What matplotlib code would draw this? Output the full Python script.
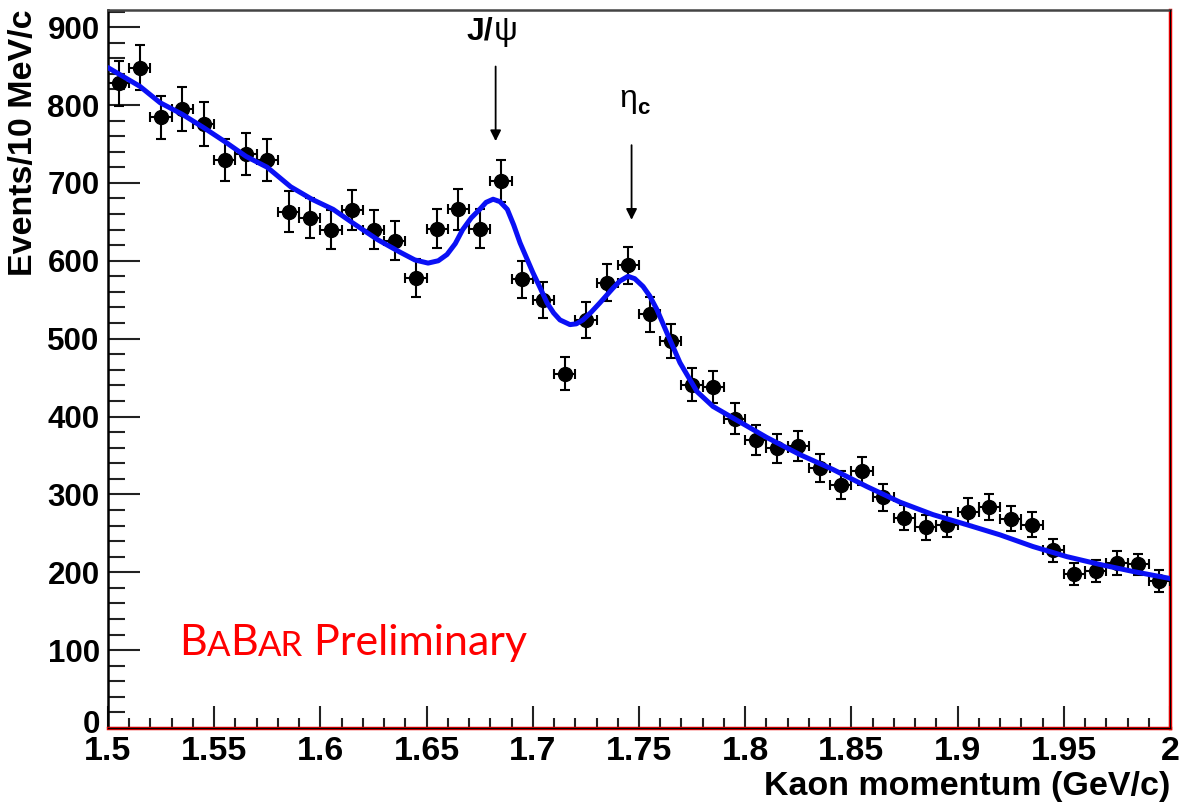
import numpy as np
import matplotlib
matplotlib.use('Agg')
import matplotlib.pyplot as plt
import matplotlib.transforms as mtransforms

#===============================================================================
# data (bin centres, 10 MeV/c bins)

kaon_p = [1.505, 1.515, 1.525, 1.535, 1.545, 1.555, 1.565, 1.575, 1.585, 1.595,
          1.605, 1.615, 1.625, 1.635, 1.645, 1.655, 1.665, 1.675, 1.685, 1.695,
          1.705, 1.715, 1.725, 1.735, 1.745, 1.755, 1.765, 1.775, 1.785, 1.795,
          1.805, 1.815, 1.825, 1.835, 1.845, 1.855, 1.865, 1.875, 1.885, 1.895,
          1.905, 1.915, 1.925, 1.935, 1.945, 1.955, 1.965, 1.975, 1.985, 1.995]

events = [828, 848, 784, 795, 776, 729, 737, 729, 663, 655,
          640, 665, 640, 626, 578, 641, 666, 641, 702, 576,
          550, 455, 524, 572, 594, 531, 497, 441, 438, 397,
          370, 359, 362, 334, 312, 330, 296, 270, 258, 261,
          278, 284, 269, 261, 228, 198, 202, 212, 210, 189]

events_err = [29, 29, 28, 28, 28, 27, 27, 27, 26, 26,
              25, 26, 25, 25, 24, 25, 26, 25, 27, 24,
              23, 21, 23, 24, 24, 23, 22, 21, 21, 20,
              19, 19, 19, 18, 18, 18, 17, 16, 16, 16,
              17, 17, 16, 16, 15, 14, 14, 15, 14, 14]

bin_half = [0.005] * len(kaon_p)

# fit curve, points
fit_p = [1.500, 1.515, 1.5245, 1.535, 1.545, 1.555, 1.565, 1.575, 1.586, 1.596,
         1.606, 1.615, 1.627, 1.6375, 1.6445, 1.6507, 1.6555, 1.6596, 1.6635, 1.667,
         1.671, 1.675, 1.678, 1.6813, 1.6845, 1.688, 1.691, 1.694, 1.697, 1.700,
         1.7035, 1.7067, 1.7098, 1.7128, 1.7175, 1.7205, 1.7236, 1.7275, 1.7316, 1.7378,
         1.741, 1.7448, 1.748, 1.7519, 1.755, 1.7585, 1.7632, 1.7693, 1.7773, 1.7848,
         1.7943, 1.8102, 1.8258, 1.8413, 1.8573, 1.8729, 1.8884, 1.9044, 1.920, 1.9355,
         1.9515, 1.967, 1.9826, 2.000]
fit_n = [848, 824, 803, 788, 771, 753, 734, 720, 695, 679,
         666, 649, 627, 611, 601, 597, 600, 608, 622, 640,
         655, 666, 675, 679, 676, 666, 646, 623, 604, 585,
         565, 546, 533, 524, 518, 519, 524, 534, 546, 565,
         574, 580, 577, 567, 555, 537, 507, 469, 432, 413,
         398, 373, 351, 332, 310, 290, 274, 261, 248, 233,
         220, 210, 201, 192]

# peak markers
peak_pos = [1.6825, 1.7465]

#===============================================================================

plt.rcParams['font.family'] = ['Liberation Sans', 'DejaVu Sans']

fig = plt.figure(figsize=(11.81, 8.06), dpi=100)
ax = fig.add_axes([108 / 1181, 1 - 728 / 806, (1170 - 108) / 1181, (728 - 10) / 806])

ax.errorbar(kaon_p, events, yerr=events_err, xerr=bin_half, fmt='o', color='black',
            markersize=10, elinewidth=1.5, capsize=3.8, capthick=1.5, zorder=3)
ax.plot(fit_p, fit_n, color='#0a10f5', linewidth=3.6, solid_capstyle='round',
        solid_joinstyle='round', zorder=4)

ax.set_xlim(1.5, 2.0)
ax.set_ylim(0, 922)

ax.set_xticks(np.arange(1.5, 2.001, 0.05))
ax.set_xticks(np.arange(1.5, 2.001, 0.01), minor=True)
ax.set_xticklabels(['1.5', '1.55', '1.6', '1.65', '1.7', '1.75', '1.8', '1.85',
                    '1.9', '1.95', '2'])
ax.set_yticks(np.arange(0, 901, 100))
ax.set_yticks(np.arange(0, 921, 20), minor=True)

ax.tick_params(axis='both', which='both', direction='in', width=1.5, color='#222222')
ax.tick_params(axis='y', which='major', length=23, pad=6)
ax.tick_params(axis='y', which='minor', length=12)
ax.tick_params(axis='x', which='major', length=16, pad=6)
ax.tick_params(axis='x', which='minor', length=7)
for lab in ax.get_xticklabels():
    lab.set_fontsize(24.5)
    lab.set_fontweight('bold')
for lab in ax.get_yticklabels():
    lab.set_fontsize(22.5)
    lab.set_fontweight('bold')

# lift the "0" a little so it sits just above "1.5" as in the original
zero_lab = ax.get_yticklabels()[0]
zero_lab.set_transform(zero_lab.get_transform() +
                       mtransforms.ScaledTranslation(0, 5 / 72, fig.dpi_scale_trans))

ax.spines['left'].set_color('black')
ax.spines['left'].set_linewidth(1.8)
ax.spines['top'].set_color('#444444')
ax.spines['top'].set_linewidth(1.8)
ax.spines['right'].set_color('#ee0000')
ax.spines['right'].set_linewidth(2.5)
ax.spines['bottom'].set_color('#ee0000')
ax.spines['bottom'].set_linewidth(2.5)
ax.axhline(0, color='black', linewidth=1.0, zorder=5, clip_on=False)
ax.axvline(2.0, color='black', linewidth=0.8, zorder=5, clip_on=False)

# peak arrows and names
ax.annotate('', xy=(peak_pos[0], 750), xytext=(peak_pos[0], 853),
            arrowprops=dict(arrowstyle='-|>', color='black', lw=1.3, mutation_scale=16))
t = ax.text(1.6690, 884, 'J/', fontsize=23, fontweight='bold', va='baseline')
ax.annotate('\u03c8', xy=(1, 0), xycoords=t, va='bottom', ha='left', fontsize=24)

ax.annotate('', xy=(peak_pos[1], 649), xytext=(peak_pos[1], 752),
            arrowprops=dict(arrowstyle='-|>', color='black', lw=1.3, mutation_scale=16))
t = ax.text(1.7405, 797, '\u03b7', fontsize=23, va='baseline')
ax.annotate('c', xy=(1, 0), xycoords=t, xytext=(0.5, -3), textcoords='offset points',
            va='bottom', ha='left', fontsize=16, fontweight='bold')

# BaBar label with small caps
big, small = 31, 25
t = ax.text(1.5335, 94, 'B', color='#ff0000', fontsize=big, family='Lato', va='baseline')
for chunk, size in [('A', small), ('B', big), ('AR', small), (' Preliminary', big)]:
    t = ax.annotate(chunk, xy=(1, 0), xycoords=t, va='bottom', ha='left',
                    color='#ff0000', fontsize=size, family='Lato')

fig.text(24 / 1181, 1 - 9 / 806, 'Events/10 MeV/c', rotation=90, ha='center', va='top',
         fontsize=24.5, fontweight='bold')
fig.text(1170 / 1181, 1 - 787 / 806, 'Kaon momentum (GeV/c)', ha='right', va='center',
         fontsize=24.5, fontweight='bold')

fig.savefig('out.png', dpi=100)
